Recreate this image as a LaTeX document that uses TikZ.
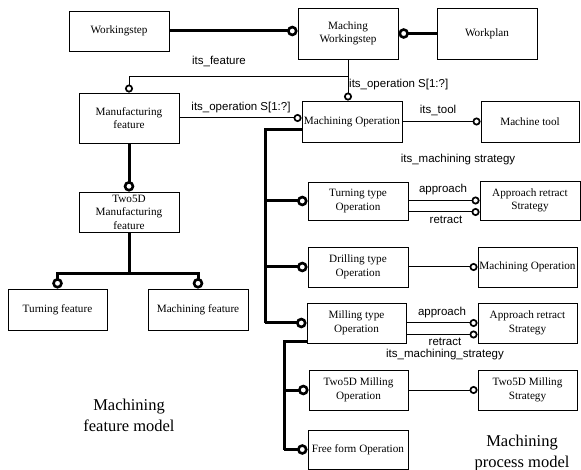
\documentclass[tikz,border=0pt]{standalone}
\usepackage{fontspec}
\setmainfont{Liberation Serif}
\setsansfont{Liberation Sans}
\usepackage{tikz}
\usetikzlibrary{arrows.meta}

\newcommand{\boxtxt}{\fontsize{11.2}{13.5}\selectfont}
\newcommand{\lbltxt}{\sffamily\fontsize{11.5}{13}\selectfont}
\newcommand{\titletxt}{\fontsize{16.5}{21}\selectfont}

\tikzset{
  box/.style={draw, rectangle, line width=0.9pt, inner sep=1pt, align=center,
    minimum width=100pt, minimum height=40pt, font=\boxtxt},
  lbl/.style={inner sep=0pt, font=\lbltxt},
  title/.style={inner sep=0pt, align=center, font=\titletxt},
  thinlink/.style={line width=1pt, -{Circle[open,length=8pt,width=8pt,line width=1.7pt]}},
  thicklink/.style={line width=3pt, -{Circle[open,length=10.5pt,width=10.5pt,line width=2.6pt]}},
  bus/.style={line width=3pt}
}

\begin{document}
\begin{tikzpicture}[x=1pt,y=-1pt]
\useasboundingbox (0,0) rectangle (581,470);

% top row
\node[box] (ws) at (119,31) {Workingstep};
\node[box, minimum height=51pt] (mws) at (348,33.5) {Maching\\Workingstep};
\node[box, minimum height=51pt] (wp) at (487,33.5) {Workplan};

% feature side
\node[box, minimum height=50pt] (mf) at (129,118) {Manufacturing\\feature};
\node[box] (tmf) at (129,212) {Two5D\\Manufacturing\\feature};
\node[box, minimum width=99pt, minimum height=41pt] (tf) at (57.5,309.5) {Turning feature};
\node[box, minimum height=41pt] (mfe) at (198,309.5) {Machining feature};

% operation side
\node[box, minimum height=41pt] (mo) at (352,121.5) {Machining Operation};
\node[box, minimum width=98pt, minimum height=41pt] (mt) at (530,121.5) {Machine tool};
\node[box, minimum height=38pt] (tto) at (358,201) {Turning type\\Operation};
\node[box, minimum height=39pt] (ars1) at (530,200.5) {Approach retract\\Strategy};
\node[box] (dto) at (358,267) {Drilling type\\Operation};
\node[box, minimum width=99pt] (mo2) at (527.5,267) {Machining Operation};
\node[box, minimum width=99pt] (mto) at (356.5,323) {Milling type\\Operation};
\node[box, minimum width=99pt] (ars2) at (527.5,323) {Approach retract\\Strategy};
\node[box, minimum width=99pt] (tmo) at (358.5,390) {Two5D Milling\\Operation};
\node[box, minimum width=99pt] (tms) at (527.5,390) {Two5D Milling\\Strategy};
\node[box, minimum height=39pt] (ffo) at (358,449.5) {Free form Operation};

% workingstep links
\draw[thicklink] (ws.east) -- (ws.east -| mws.west);
\draw[thicklink] (wp.west) -- (mws.east);

% its_feature
\draw[thinlink] (mws.south) -- ++(0,17) -| (mf.north);
\node[lbl] (lfeat) at (219,61) {its\_feature};

% its_operation from workingstep
\draw[thinlink] (mws.south) -- (mws.south |- mo.north);
\node[lbl, anchor=west] (lop1) at (349,85) {its\_operation S[1:?]};

% its_operation from feature
\draw[thinlink] (mf.east) -- (mf.east -| mo.west);
\node[lbl] (lop2) at (241,108) {its\_operation S[1:?]};

% its_tool
\draw[thinlink] (mo.east) -- (mt.west);
\node[lbl] (ltool) at (438,110) {its\_tool};
\node[lbl] (lstrat) at (458,160) {its\_machining strategy};

% feature tree
\draw[thicklink] (mf.south) -- (tmf.north);
\draw[thicklink] (tmf.south) -- ++(0,41) -| (tf.north);
\draw[thicklink] (tmf.south) -- ++(0,41) -| (mfe.north);

% operation tree
\coordinate (obus) at (265,130);
\draw[bus] ([yshift=-8.5pt]mo.west) -- (obus) -- (obus |- mto.west);
\draw[thicklink] (obus |- tto.west) -- (tto.west);
\draw[thicklink] (obus |- dto.west) -- (dto.west);
\draw[thicklink] (obus |- mto.west) -- (mto.west);

% milling tree
\coordinate (mbus) at (284,341);
\draw[bus] ([yshift=-18pt]mto.west) -- (mbus) -- (mbus |- ffo.west);
\draw[thicklink] (mbus |- tmo.west) -- (tmo.west);
\draw[thicklink] (mbus |- ffo.west) -- (ffo.west);

% approach / retract (turning)
\coordinate (r1) at ([yshift=-11.5pt]ars1.west);
\draw[thinlink] (tto.east |- ars1.west) -- (ars1.west);
\draw[thinlink] (tto.east |- r1) -- (r1);
\node[lbl] (lapp1) at (443,190) {approach};
\node[lbl] (lret1) at (446,220) {retract};

% drilling
\draw[thinlink] (dto.east) -- (mo2.west);

% approach / retract (milling)
\coordinate (r2) at ([yshift=-11.5pt]ars2.west);
\draw[thinlink] (mto.east |- ars2.west) -- (ars2.west);
\draw[thinlink] (mto.east |- r2) -- (r2);
\node[lbl] (lapp2) at (442,313) {approach};
\node[lbl] (lret2) at (445,342) {retract};
\node[lbl] (lstrat2) at (445,355) {its\_machining\_strategy};

% two5D milling
\draw[thinlink] (tmo.east) -- (tms.west);

% model titles
\node[title] (tfeat) at (129,415) {Machining\\feature model};
\node[title] (tproc) at (522,453) {Machining\\process model};

\end{tikzpicture}
\end{document}
